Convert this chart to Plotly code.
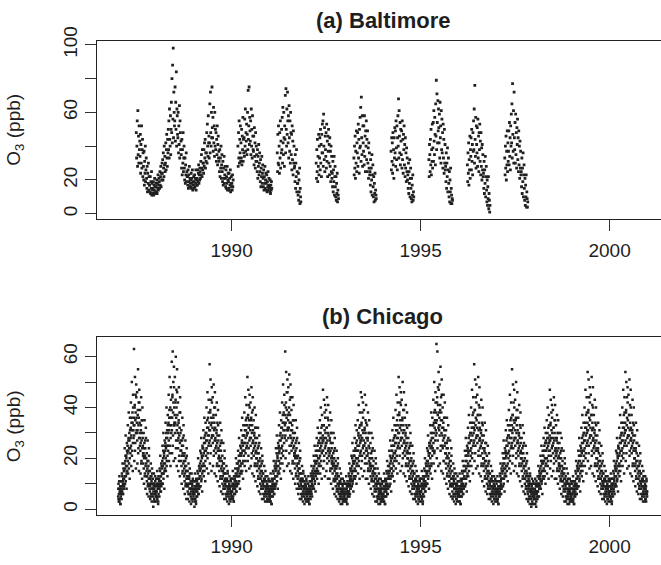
import pandas as pd
import plotly.graph_objects as go

# ---------------- data (ppb, one reading every 3 days) ----------------
bal_starts = ["1987-06-25", "1990-03-03", "1991-03-18", "1992-03-28", "1993-03-28",
              "1994-03-22", "1995-03-22", "1996-03-28", "1997-03-25"]
bal_87_90 = [48, 33,
    40, 55, 28, 61, 35, 46, 30, 52, 38, 43,
    34, 47, 24, 41, 30, 52, 27, 38, 44, 22, 36,
    28, 20, 37, 17, 31, 24, 40, 19, 26, 33,
    21, 15, 28, 13, 24, 18, 30, 14, 22, 17,
    17, 13, 22, 12, 19, 15, 25, 11, 18, 14,
    15, 12, 19, 11, 17, 14, 21, 12, 16, 13, 18,
    16, 13, 20, 12, 18, 15, 23, 14, 17, 21,
    19, 15, 25, 17, 22, 28, 16, 24, 20, 30,
    24, 32, 20, 36, 27, 22, 40, 29, 34, 25,
    30, 42, 26, 38, 47, 33, 28, 44, 36, 50,
    38, 55, 33, 62, 44, 40, 58, 35, 50, 66,
    48, 80, 42, 88, 56, 98, 45, 72, 60, 52,
    55, 75, 43, 66, 50, 84, 40, 62, 58, 47,
    45, 60, 36, 52, 41, 64, 33, 55, 48, 38, 43,
    35, 27, 44, 23, 38, 30, 48, 25, 33, 40,
    27, 20, 33, 18, 29, 23, 36, 19, 25, 22,
    22, 17, 26, 15, 23, 19, 28, 16, 21, 18,
    20, 16, 24, 15, 21, 18, 26, 14, 19, 17, 22,
    19, 15, 23, 16, 21, 18, 26, 14, 20, 17,
    21, 17, 26, 19, 24, 29, 18, 23, 20, 27,
    25, 21, 31, 23, 35, 27, 22, 38, 26, 30,
    30, 24, 38, 28, 42, 33, 44, 27, 36, 31,
    36, 48, 30, 53, 40, 34, 58, 42, 46, 33,
    42, 65, 36, 72, 48, 40, 60, 45, 75, 51,
    45, 57, 37, 63, 42, 52, 34, 60, 40, 50,
    38, 48, 31, 44, 35, 52, 29, 41, 46, 33, 37,
    31, 25, 38, 22, 33, 27, 40, 21, 29, 35,
    25, 19, 31, 17, 27, 21, 34, 18, 23, 28,
    21, 16, 26, 15, 22, 18, 28, 14, 20, 24,
    19, 15, 24, 14, 21, 17, 26, 13, 18, 22, 16,
    18, 14, 23, 16, 20]
bal_1990 = [40, 28, 48, 33, 55, 30, 44, 36, 52, 31,
    42, 33, 50, 29, 46, 38, 57, 31, 44, 36,
    45, 34, 56, 40, 62, 37, 48, 43, 53, 35,
    47, 60, 38, 73, 44, 52, 75, 41, 57, 49,
    43, 55, 35, 62, 40, 50, 33, 58, 46, 38,
    37, 46, 29, 51, 34, 42, 27, 48, 31, 40, 35,
    31, 25, 38, 21, 34, 28, 41, 23, 30, 36,
    25, 19, 32, 16, 27, 22, 34, 18, 24, 29,
    21, 16, 26, 14, 22, 18, 28, 15, 20, 24,
    18, 14, 23, 13, 19, 16, 25, 14, 17, 21, 15,
    16, 13, 20, 12, 17, 14, 19, 15]
bal_1991 = [36, 25, 47, 30, 52,
    29, 40, 24, 48, 33, 55, 27, 43, 36, 50,
    38, 57, 30, 63, 42, 35, 60, 45, 28, 52,
    44, 70, 36, 74, 50, 40, 62, 47, 72, 55,
    42, 58, 33, 64, 45, 37, 55, 30, 60, 48,
    35, 47, 26, 52, 32, 43, 23, 49, 30, 40, 27,
    28, 19, 35, 15, 30, 22, 38, 13, 25, 18,
    18, 11, 24, 8, 20, 13, 27, 6, 15, 10, 7]
bal_1992 = [30, 21, 38, 25, 44, 19, 34, 28, 47, 23, 40,
    33, 45, 26, 50, 30, 41, 22, 47, 36, 53,
    36, 55, 28, 59, 40, 32, 51, 25, 46, 38,
    34, 48, 27, 53, 31, 43, 22, 46, 37, 50,
    30, 41, 23, 45, 28, 37, 19, 40, 25, 34, 21,
    24, 16, 31, 13, 26, 19, 34, 11, 22, 28,
    16, 10, 22, 8, 18, 12, 24, 7, 14, 11, 9]
bal_1993 = [33, 23, 40, 27, 46, 21, 37, 30, 49, 25, 42,
    36, 48, 28, 53, 33, 44, 24, 50, 39, 57,
    40, 63, 31, 69, 45, 35, 58, 28, 52, 42,
    37, 52, 29, 58, 34, 46, 25, 49, 40, 55,
    32, 44, 25, 49, 30, 39, 21, 42, 27, 36, 23,
    25, 17, 32, 13, 27, 20, 35, 11, 23, 29,
    16, 10, 22, 7, 18, 12, 24, 8, 14, 11, 9]
bal_1994 = [37, 26, 45,
    31, 42, 24, 48, 29, 38, 21, 45, 33, 51,
    36, 49, 28, 55, 39, 32, 52, 26, 45, 58,
    40, 68, 33, 61, 46, 36, 54, 29, 50, 43,
    35, 49, 27, 55, 32, 44, 24, 47, 38, 52,
    29, 41, 22, 45, 27, 36, 19, 39, 25, 33, 20,
    23, 15, 30, 12, 25, 18, 32, 10, 21, 27,
    15, 9, 21, 7, 17, 11, 23, 8, 13, 10]
bal_1995 = [32, 22, 41,
    35, 25, 44, 29, 50, 23, 38, 31, 53, 27,
    39, 54, 31, 61, 43, 35, 57, 47, 29, 65,
    46, 79, 38, 71, 54, 42, 67, 49, 62, 51,
    42, 59, 33, 66, 45, 52, 30, 61, 38, 56,
    36, 48, 27, 53, 33, 44, 24, 50, 30, 41, 26,
    28, 19, 36, 15, 30, 22, 39, 13, 26, 33,
    18, 10, 25, 7, 20, 13, 27, 6, 15, 11,
    6, 9, 8]
bal_1996 = [29, 19, 36, 24, 42, 17, 32, 26, 46, 21, 38,
    34, 45, 26, 50, 31, 41, 23, 48, 37, 55,
    38, 62, 30, 76, 44, 34, 57, 27, 52, 41,
    36, 51, 28, 56, 33, 46, 25, 48, 38, 53,
    31, 43, 23, 48, 28, 39, 20, 41, 26, 35, 22,
    24, 15, 31, 12, 26, 18, 34, 10, 22, 28,
    14, 7, 20, 5, 16, 9, 22, 3, 12, 8, 1, 5]
bal_1997 = [33, 23, 40, 27, 46, 20, 37, 29, 49, 25, 42, 31,
    37, 49, 29, 54, 34, 45, 26, 52, 40, 59,
    42, 65, 33, 77, 47, 37, 61, 30, 72, 45,
    38, 54, 30, 59, 35, 48, 27, 51, 41, 56,
    32, 45, 25, 49, 29, 40, 21, 43, 27, 37, 23,
    25, 16, 33, 12, 27, 19, 36, 10, 23, 29,
    15, 8, 21, 5, 17, 10, 23, 4, 13, 9, 4, 7]

# Chicago, first set of readings (from 1 January, every 3 days)
chi_1987 = [5, 10, 3, 8, 13, 4, 7, 2, 11, 6,
    9, 4, 14, 7, 18, 11, 6, 16, 8, 12,
    15, 24, 10, 19, 29, 13, 21, 8, 26, 17,
    22, 33, 14, 27, 38, 18, 30, 12, 36, 24,
    28, 42, 17, 34, 50, 23, 38, 15, 45, 31,
    33, 63, 19, 40, 52, 26, 45, 16, 49, 36,
    30, 46, 18, 37, 55, 24, 42, 15, 47, 34,
    25, 39, 14, 31, 44, 19, 35, 12, 40, 28, 21,
    18, 30, 10, 24, 35, 14, 27, 8, 32, 20,
    13, 22, 6, 16, 27, 10, 19, 5, 24, 15,
    8, 15, 4, 12, 18, 6, 13, 3, 16, 10,
    6, 12, 1, 9, 14, 4, 10, 3, 13, 7, 5]
chi_1988 = [7, 12, 3, 10, 15, 5, 9, 2, 13, 8,
    11, 5, 16, 9, 21, 13, 7, 18, 10, 14,
    16, 25, 10, 20, 30, 14, 22, 8, 27, 18,
    23, 34, 15, 28, 40, 19, 31, 13, 37, 25,
    30, 45, 19, 36, 52, 25, 40, 17, 48, 33,
    36, 58, 22, 44, 62, 29, 50, 19, 56, 40,
    33, 52, 20, 42, 60, 27, 47, 17, 55, 37,
    27, 42, 15, 34, 48, 21, 38, 13, 44, 30, 23,
    19, 31, 10, 25, 36, 15, 28, 8, 33, 21,
    13, 22, 6, 17, 27, 10, 20, 4, 24, 15,
    9, 15, 4, 12, 18, 6, 13, 3, 16, 10,
    6, 11, 2, 8, 14, 4, 10, 3, 12, 7, 5]
chi_1989 = [6, 11, 1, 9, 14, 4, 8, 3, 12, 7,
    10, 5, 15, 8, 20, 12, 6, 17, 9, 13,
    15, 23, 9, 19, 28, 12, 21, 7, 25, 17,
    21, 31, 13, 26, 36, 17, 29, 11, 34, 23,
    27, 40, 16, 32, 46, 22, 36, 14, 43, 29,
    31, 57, 18, 38, 51, 25, 43, 15, 48, 34,
    29, 44, 17, 36, 49, 23, 40, 14, 46, 32,
    24, 37, 13, 30, 42, 18, 34, 11, 39, 27, 20,
    17, 29, 9, 23, 34, 13, 26, 7, 31, 19,
    12, 21, 6, 15, 26, 9, 18, 4, 23, 14,
    8, 14, 4, 11, 17, 6, 12, 3, 15, 9,
    6, 11, 2, 8, 13, 4, 9, 3, 12, 7, 5]
chi_1990 = [7, 12, 4, 10, 15, 5, 9, 3, 13, 8,
    11, 6, 16, 9, 20, 13, 7, 18, 10, 14,
    15, 23, 10, 19, 28, 13, 21, 8, 25, 17,
    21, 31, 14, 26, 36, 18, 29, 12, 33, 23,
    26, 38, 17, 31, 44, 22, 35, 15, 41, 29,
    30, 52, 19, 36, 47, 24, 41, 16, 45, 33,
    28, 42, 17, 35, 48, 22, 38, 14, 44, 31,
    23, 35, 13, 29, 40, 18, 32, 11, 37, 26, 20,
    17, 28, 9, 22, 32, 13, 25, 7, 29, 19,
    12, 20, 6, 15, 24, 9, 18, 4, 21, 14,
    8, 14, 4, 11, 17, 6, 12, 3, 15, 9,
    6, 11, 3, 8, 13, 4, 9, 3, 12, 7, 5]
chi_1991 = [6, 11, 3, 9, 14, 5, 8, 2, 12, 7,
    10, 5, 15, 8, 19, 12, 6, 17, 9, 13,
    15, 24, 10, 19, 29, 13, 21, 8, 26, 17,
    22, 33, 14, 27, 38, 18, 30, 12, 35, 24,
    28, 42, 18, 34, 49, 23, 38, 15, 45, 31,
    33, 62, 20, 40, 54, 27, 46, 17, 51, 37,
    31, 48, 18, 38, 53, 25, 43, 15, 49, 34,
    25, 39, 14, 31, 44, 19, 35, 12, 41, 28, 21,
    18, 30, 10, 23, 35, 14, 27, 8, 32, 20,
    12, 21, 6, 16, 26, 9, 19, 4, 23, 14,
    8, 14, 4, 11, 17, 6, 12, 3, 15, 9,
    6, 11, 2, 8, 13, 4, 9, 3, 12, 7, 5]
chi_1992 = [6, 10, 3, 8, 13, 4, 7, 2, 11, 6,
    9, 4, 14, 7, 17, 11, 5, 15, 8, 12,
    13, 21, 8, 17, 25, 11, 19, 7, 23, 15,
    18, 28, 12, 23, 32, 15, 26, 10, 30, 20,
    23, 35, 14, 28, 40, 19, 32, 12, 37, 26,
    27, 47, 16, 33, 43, 21, 38, 13, 41, 30,
    26, 39, 15, 32, 44, 20, 36, 12, 41, 29,
    21, 33, 12, 27, 38, 16, 30, 10, 35, 24, 18,
    16, 26, 8, 20, 30, 12, 23, 6, 28, 17,
    11, 19, 5, 14, 23, 8, 17, 4, 20, 13,
    7, 13, 3, 10, 16, 5, 11, 2, 14, 8,
    5, 10, 2, 7, 12, 4, 8, 3, 11, 6, 4]
chi_1993 = [6, 10, 3, 8, 13, 4, 7, 2, 11, 6,
    9, 5, 14, 7, 18, 11, 6, 16, 8, 12,
    13, 21, 9, 17, 26, 11, 19, 7, 23, 15,
    18, 28, 12, 23, 33, 15, 26, 10, 31, 20,
    23, 35, 14, 29, 41, 19, 32, 12, 38, 26,
    27, 46, 16, 33, 44, 21, 38, 13, 42, 30,
    25, 39, 15, 31, 45, 20, 35, 12, 41, 28,
    21, 33, 12, 27, 38, 16, 30, 10, 35, 24, 18,
    15, 26, 8, 20, 30, 12, 23, 6, 28, 17,
    11, 19, 5, 14, 23, 8, 16, 3, 20, 12,
    7, 13, 3, 10, 16, 5, 11, 2, 14, 8,
    5, 10, 2, 7, 12, 4, 8, 3, 11, 6, 4]
chi_1994 = [6, 11, 3, 9, 14, 5, 8, 2, 12, 7,
    10, 5, 15, 8, 19, 12, 6, 17, 9, 13,
    14, 23, 9, 18, 27, 12, 20, 7, 25, 16,
    20, 31, 13, 25, 36, 17, 28, 11, 33, 22,
    26, 39, 16, 31, 45, 21, 35, 14, 42, 28,
    30, 52, 18, 37, 48, 24, 42, 15, 46, 33,
    28, 43, 17, 35, 50, 22, 39, 14, 46, 31,
    23, 36, 13, 29, 41, 18, 33, 11, 38, 26, 20,
    17, 28, 9, 22, 33, 13, 25, 7, 30, 19,
    12, 20, 6, 15, 25, 9, 18, 4, 22, 14,
    8, 14, 4, 11, 17, 6, 12, 3, 15, 9,
    6, 11, 2, 8, 13, 4, 9, 3, 12, 7, 5]
chi_1995 = [7, 12, 3, 10, 15, 5, 9, 2, 13, 8,
    11, 5, 16, 9, 20, 13, 7, 18, 10, 14,
    15, 24, 10, 19, 29, 13, 22, 8, 26, 17,
    22, 33, 14, 27, 38, 18, 30, 12, 36, 24,
    28, 43, 18, 34, 50, 23, 39, 15, 46, 31,
    34, 65, 20, 42, 62, 27, 48, 17, 54, 38,
    31, 49, 18, 39, 56, 25, 44, 15, 51, 35,
    25, 40, 14, 32, 45, 19, 36, 12, 42, 29, 22,
    18, 31, 10, 24, 36, 14, 27, 8, 33, 20,
    13, 22, 6, 16, 27, 10, 19, 5, 24, 15,
    9, 15, 4, 12, 18, 6, 13, 3, 16, 10,
    6, 12, 2, 9, 14, 4, 10, 3, 13, 7, 5]
chi_1996 = [6, 11, 3, 9, 14, 5, 8, 2, 12, 7,
    10, 5, 15, 8, 19, 12, 6, 17, 9, 13,
    15, 23, 9, 19, 28, 12, 21, 7, 25, 17,
    21, 32, 13, 26, 37, 17, 29, 11, 34, 23,
    27, 40, 17, 32, 47, 22, 37, 14, 44, 30,
    32, 57, 19, 39, 51, 25, 44, 16, 49, 35,
    29, 45, 17, 37, 52, 23, 41, 14, 48, 32,
    24, 37, 13, 30, 43, 18, 34, 11, 40, 27, 20,
    17, 29, 9, 23, 34, 13, 26, 7, 31, 19,
    12, 21, 6, 15, 25, 9, 18, 4, 22, 14,
    8, 14, 4, 11, 17, 6, 12, 3, 15, 9,
    6, 11, 2, 8, 13, 4, 9, 3, 12, 7, 5]
chi_1997 = [6, 10, 3, 8, 13, 4, 7, 2, 11, 6,
    9, 5, 14, 8, 18, 11, 6, 16, 9, 12,
    14, 22, 9, 18, 27, 12, 20, 7, 24, 16,
    20, 31, 13, 25, 35, 17, 28, 11, 33, 22,
    26, 39, 16, 31, 45, 21, 35, 14, 42, 28,
    31, 55, 18, 37, 49, 24, 42, 15, 47, 34,
    28, 43, 17, 35, 50, 22, 39, 14, 46, 31,
    23, 36, 13, 29, 41, 18, 33, 11, 38, 26, 20,
    17, 28, 9, 22, 33, 13, 25, 7, 30, 19,
    12, 20, 6, 15, 25, 9, 18, 4, 22, 14,
    7, 13, 3, 10, 16, 5, 11, 2, 14, 8,
    5, 10, 1, 7, 12, 3, 8, 2, 11, 6, 4]
chi_1998 = [5, 10, 2, 8, 12, 4, 7, 1, 11, 6,
    9, 4, 13, 7, 17, 10, 5, 15, 8, 12,
    13, 21, 8, 17, 25, 11, 19, 6, 23, 15,
    18, 28, 12, 23, 32, 15, 26, 10, 30, 20,
    23, 35, 14, 28, 40, 19, 32, 12, 37, 26,
    27, 47, 16, 33, 43, 21, 38, 13, 41, 30,
    25, 39, 15, 32, 44, 20, 35, 12, 41, 28,
    21, 33, 12, 27, 37, 16, 30, 10, 35, 24, 18,
    15, 26, 8, 20, 30, 12, 23, 6, 28, 17,
    11, 19, 5, 14, 23, 8, 16, 3, 20, 12,
    7, 13, 3, 10, 16, 5, 11, 2, 14, 8,
    5, 10, 2, 7, 12, 4, 8, 3, 11, 6, 4]
chi_1999 = [6, 10, 3, 8, 13, 4, 7, 2, 11, 6,
    10, 5, 15, 8, 19, 12, 6, 17, 9, 13,
    15, 23, 9, 19, 28, 12, 21, 7, 25, 17,
    21, 32, 13, 26, 37, 17, 29, 11, 34, 23,
    27, 40, 17, 32, 47, 22, 37, 14, 44, 30,
    31, 54, 19, 38, 51, 25, 44, 16, 48, 35,
    29, 45, 17, 37, 52, 23, 41, 14, 48, 32,
    24, 37, 13, 30, 43, 18, 34, 11, 40, 27, 20,
    17, 29, 9, 23, 34, 13, 26, 7, 31, 19,
    12, 21, 6, 15, 25, 9, 18, 4, 22, 14,
    8, 14, 4, 11, 17, 6, 12, 3, 15, 9,
    6, 11, 2, 8, 13, 4, 9, 3, 12, 7, 5]
chi_2000 = [7, 11, 3, 9, 14, 5, 8, 2, 12, 7,
    10, 5, 15, 8, 19, 12, 6, 17, 9, 13,
    15, 23, 9, 19, 28, 12, 21, 7, 25, 17,
    21, 32, 13, 26, 37, 17, 29, 11, 34, 23,
    27, 40, 17, 32, 47, 22, 37, 14, 44, 30,
    31, 54, 19, 38, 50, 25, 44, 16, 48, 35,
    29, 45, 17, 37, 51, 23, 41, 14, 47, 32,
    24, 37, 13, 30, 43, 18, 34, 11, 40, 27, 20,
    17, 29, 9, 23, 34, 13, 26, 7, 31, 19,
    12, 21, 6, 15, 25, 9, 18, 4, 22, 14,
    8, 14, 4, 11, 17, 6, 12, 3, 15, 9,
    6, 11, 3, 8, 13, 4, 9, 3, 12, 7, 5]

# Chicago, second set of readings (from 2 January, every 3 days)
chi2_1987 = [8, 4, 6, 11, 3, 7, 9, 2, 5, 8,
    11, 7, 9, 13, 6, 10, 12, 8, 15, 9,
    18, 13, 16, 21, 11, 17, 20, 14, 23, 15,
    25, 19, 23, 28, 16, 24, 27, 20, 31, 22,
    32, 25, 29, 36, 21, 31, 34, 26, 40, 28,
    36, 29, 33, 41, 23, 35, 38, 30, 44, 31,
    34, 27, 31, 39, 22, 33, 36, 28, 42, 30,
    28, 23, 26, 33, 18, 27, 30, 24, 35, 25, 22,
    22, 16, 20, 26, 13, 21, 24, 17, 28, 18,
    15, 11, 13, 19, 9, 14, 17, 12, 21, 12,
    10, 7, 9, 13, 5, 10, 11, 8, 14, 8,
    8, 5, 7, 10, 3, 8, 9, 6, 11, 6, 7]
chi2_1988 = [9, 5, 7, 12, 4, 8, 10, 3, 6, 9,
    12, 8, 10, 15, 7, 11, 13, 9, 17, 10,
    19, 14, 17, 23, 12, 18, 21, 15, 25, 16,
    26, 20, 24, 30, 17, 25, 28, 21, 33, 23,
    34, 27, 31, 39, 22, 33, 36, 28, 43, 30,
    39, 31, 36, 45, 25, 38, 42, 33, 48, 34,
    37, 30, 34, 43, 24, 36, 40, 31, 46, 33,
    30, 24, 28, 35, 19, 29, 32, 26, 38, 27, 23,
    23, 17, 21, 27, 14, 22, 25, 18, 29, 19,
    16, 11, 14, 19, 9, 15, 17, 12, 21, 13,
    10, 7, 9, 13, 6, 10, 12, 8, 14, 8,
    8, 5, 7, 10, 4, 8, 9, 6, 11, 6, 7]
chi2_1989 = [8, 4, 6, 11, 3, 7, 9, 2, 5, 8,
    11, 7, 9, 14, 6, 10, 12, 8, 16, 9,
    18, 13, 16, 22, 11, 17, 20, 14, 24, 15,
    24, 18, 22, 28, 15, 23, 26, 19, 30, 21,
    30, 24, 27, 35, 20, 29, 32, 25, 38, 26,
    34, 27, 31, 39, 22, 33, 36, 28, 42, 29,
    32, 26, 29, 37, 21, 31, 34, 27, 40, 28,
    27, 22, 25, 31, 17, 26, 29, 23, 33, 24, 20,
    21, 15, 19, 25, 12, 20, 23, 16, 27, 17,
    15, 10, 13, 18, 8, 14, 16, 11, 20, 12,
    10, 6, 9, 12, 5, 9, 11, 7, 14, 8,
    8, 5, 7, 10, 4, 8, 9, 6, 11, 6, 7]
chi2_1990 = [9, 5, 7, 12, 4, 8, 10, 3, 6, 9,
    12, 8, 10, 14, 7, 11, 13, 9, 16, 10,
    18, 13, 16, 21, 11, 17, 19, 14, 22, 15,
    24, 18, 22, 27, 15, 23, 25, 19, 29, 21,
    29, 23, 26, 33, 19, 28, 31, 24, 36, 25,
    33, 26, 30, 37, 21, 32, 35, 27, 40, 28,
    31, 25, 28, 36, 20, 30, 33, 26, 39, 27,
    26, 21, 24, 30, 17, 25, 28, 22, 32, 23, 20,
    20, 15, 18, 24, 12, 19, 22, 16, 26, 17,
    14, 10, 12, 17, 8, 13, 15, 11, 19, 11,
    10, 6, 9, 12, 5, 9, 11, 7, 13, 8,
    8, 5, 7, 10, 4, 8, 9, 6, 11, 6, 7]
chi2_1991 = [8, 4, 6, 11, 3, 7, 9, 2, 5, 8,
    11, 7, 9, 14, 6, 10, 12, 8, 16, 9,
    18, 13, 16, 22, 11, 17, 20, 14, 24, 15,
    25, 19, 23, 29, 16, 24, 27, 20, 32, 22,
    32, 25, 29, 37, 21, 31, 34, 26, 41, 28,
    37, 29, 34, 42, 23, 36, 39, 31, 46, 32,
    35, 28, 32, 40, 22, 34, 37, 29, 44, 31,
    28, 23, 26, 33, 18, 27, 30, 24, 35, 25, 22,
    22, 16, 20, 26, 13, 21, 24, 17, 28, 18,
    15, 10, 13, 18, 8, 14, 16, 11, 20, 12,
    10, 6, 9, 12, 5, 9, 11, 7, 14, 8,
    8, 5, 7, 10, 4, 8, 9, 6, 11, 6, 7]
chi2_1992 = [8, 4, 6, 10, 3, 7, 9, 2, 5, 8,
    11, 7, 9, 13, 6, 10, 12, 8, 14, 9,
    16, 12, 14, 19, 10, 15, 18, 13, 21, 14,
    21, 16, 19, 25, 14, 20, 23, 17, 27, 18,
    26, 21, 24, 30, 17, 25, 28, 22, 33, 23,
    29, 23, 27, 33, 19, 28, 31, 24, 36, 25,
    28, 22, 26, 32, 18, 27, 30, 23, 35, 24,
    24, 19, 22, 28, 15, 23, 26, 20, 30, 21, 18,
    19, 14, 17, 22, 11, 18, 20, 15, 24, 16,
    13, 9, 12, 16, 7, 12, 14, 10, 18, 10,
    9, 6, 8, 11, 4, 8, 10, 6, 12, 7,
    7, 4, 6, 9, 3, 7, 8, 5, 10, 5, 6]
chi2_1993 = [7, 4, 6, 10, 3, 8, 9, 2, 5, 7,
    10, 7, 9, 13, 5, 10, 12, 8, 15, 9,
    16, 11, 14, 20, 10, 15, 18, 12, 21, 13,
    21, 16, 19, 24, 13, 20, 23, 17, 27, 18,
    25, 20, 23, 30, 17, 25, 28, 21, 33, 22,
    29, 23, 27, 34, 19, 28, 31, 24, 36, 25,
    27, 22, 25, 32, 18, 26, 30, 23, 34, 24,
    23, 18, 21, 28, 15, 22, 25, 19, 30, 20, 17,
    18, 13, 16, 22, 11, 17, 20, 14, 24, 15,
    13, 9, 11, 16, 7, 12, 14, 10, 18, 10,
    9, 5, 8, 11, 4, 8, 10, 6, 12, 7,
    7, 4, 6, 9, 3, 7, 8, 5, 10, 5, 6]
chi2_1994 = [8, 4, 6, 11, 3, 7, 9, 2, 5, 8,
    11, 7, 9, 14, 6, 10, 12, 8, 15, 9,
    17, 12, 15, 21, 10, 16, 19, 13, 23, 14,
    23, 18, 21, 27, 15, 22, 25, 19, 29, 20,
    29, 23, 26, 33, 19, 28, 31, 24, 37, 25,
    33, 26, 30, 38, 21, 32, 35, 27, 41, 28,
    31, 25, 28, 36, 20, 30, 33, 26, 39, 27,
    26, 21, 24, 30, 17, 25, 28, 22, 32, 23, 20,
    20, 15, 18, 24, 12, 19, 22, 16, 26, 17,
    14, 10, 12, 17, 8, 13, 15, 11, 19, 11,
    10, 6, 9, 12, 5, 9, 11, 7, 13, 8,
    8, 5, 7, 10, 4, 8, 9, 6, 11, 6, 7]
chi2_1995 = [9, 5, 7, 12, 4, 8, 10, 3, 6, 9,
    12, 8, 10, 15, 7, 11, 13, 9, 17, 10,
    19, 14, 17, 23, 12, 18, 21, 15, 25, 16,
    26, 20, 24, 30, 17, 25, 28, 21, 33, 23,
    33, 26, 30, 38, 22, 32, 35, 27, 42, 29,
    38, 30, 35, 44, 24, 37, 41, 32, 47, 33,
    36, 29, 33, 41, 23, 35, 38, 30, 45, 32,
    29, 24, 27, 34, 19, 28, 31, 25, 36, 26, 22,
    22, 16, 20, 26, 13, 21, 24, 17, 28, 18,
    15, 11, 13, 19, 9, 14, 17, 12, 21, 12,
    10, 7, 9, 13, 5, 10, 11, 8, 14, 8,
    8, 5, 7, 10, 4, 8, 9, 6, 11, 6, 7]
chi2_1996 = [8, 5, 6, 11, 3, 7, 9, 2, 5, 8,
    11, 7, 9, 14, 6, 10, 12, 8, 15, 9,
    17, 12, 15, 21, 10, 16, 19, 13, 23, 14,
    24, 18, 22, 28, 15, 23, 26, 19, 30, 21,
    30, 24, 27, 34, 20, 29, 32, 25, 38, 26,
    34, 27, 31, 39, 22, 33, 36, 28, 42, 29,
    32, 26, 29, 37, 21, 31, 34, 27, 40, 28,
    27, 21, 25, 31, 17, 26, 29, 22, 33, 24, 20,
    20, 15, 18, 24, 12, 19, 22, 16, 26, 17,
    14, 10, 12, 17, 8, 13, 15, 11, 19, 11,
    10, 6, 9, 12, 5, 9, 11, 7, 13, 8,
    8, 5, 7, 10, 4, 8, 9, 6, 11, 6, 7]
chi2_1997 = [8, 4, 6, 11, 3, 7, 9, 2, 5, 8,
    11, 7, 9, 13, 6, 10, 12, 8, 15, 9,
    17, 12, 15, 20, 10, 16, 18, 13, 22, 14,
    23, 17, 21, 27, 15, 22, 25, 18, 29, 20,
    29, 23, 26, 33, 19, 28, 31, 24, 36, 25,
    33, 26, 30, 37, 21, 32, 35, 27, 40, 28,
    31, 25, 28, 36, 20, 30, 33, 26, 39, 27,
    26, 21, 24, 30, 17, 25, 28, 22, 32, 23, 20,
    20, 15, 18, 24, 12, 19, 22, 16, 26, 17,
    14, 10, 12, 17, 8, 13, 15, 11, 19, 11,
    9, 6, 8, 12, 4, 9, 10, 7, 13, 7,
    7, 4, 6, 9, 2, 7, 8, 5, 10, 5, 6]
chi2_1998 = [7, 4, 6, 10, 2, 7, 9, 3, 5, 7,
    10, 7, 9, 13, 5, 10, 12, 8, 14, 9,
    16, 11, 14, 19, 10, 15, 18, 12, 21, 13,
    21, 16, 19, 25, 13, 20, 23, 17, 27, 18,
    26, 20, 24, 30, 17, 25, 28, 21, 33, 23,
    29, 23, 27, 34, 19, 28, 31, 24, 36, 25,
    28, 22, 26, 32, 18, 27, 30, 23, 35, 24,
    24, 19, 22, 28, 15, 23, 26, 20, 30, 21, 17,
    18, 13, 16, 22, 11, 17, 20, 14, 24, 15,
    13, 9, 11, 16, 7, 12, 14, 10, 18, 10,
    9, 5, 8, 11, 4, 8, 10, 6, 12, 7,
    7, 4, 6, 9, 3, 7, 8, 5, 10, 5, 6]
chi2_1999 = [8, 4, 6, 11, 3, 7, 9, 2, 5, 8,
    11, 7, 9, 14, 6, 10, 12, 8, 16, 9,
    18, 13, 16, 21, 11, 17, 19, 14, 23, 15,
    24, 18, 22, 28, 15, 23, 26, 19, 30, 21,
    30, 24, 27, 34, 20, 29, 32, 25, 38, 26,
    34, 27, 31, 39, 22, 33, 36, 28, 42, 29,
    32, 26, 29, 37, 21, 31, 34, 27, 40, 28,
    27, 22, 25, 31, 17, 26, 29, 23, 33, 24, 20,
    20, 15, 18, 24, 12, 19, 22, 16, 26, 17,
    14, 10, 12, 17, 8, 13, 15, 11, 19, 11,
    10, 6, 9, 12, 5, 9, 11, 7, 13, 8,
    8, 5, 7, 10, 4, 8, 9, 6, 11, 6, 7]
chi2_2000 = [9, 5, 7, 12, 4, 8, 10, 3, 6, 9,
    12, 8, 10, 14, 7, 11, 13, 9, 16, 10,
    18, 13, 16, 22, 11, 17, 20, 14, 24, 15,
    24, 18, 22, 28, 15, 23, 26, 19, 30, 21,
    30, 24, 27, 34, 20, 29, 32, 25, 38, 26,
    34, 27, 31, 39, 22, 33, 36, 28, 42, 29,
    32, 26, 29, 37, 21, 31, 34, 27, 40, 28,
    27, 22, 25, 31, 17, 26, 29, 23, 33, 24, 20,
    20, 15, 18, 24, 12, 19, 22, 16, 26, 17,
    14, 10, 12, 17, 8, 13, 15, 11, 19, 11,
    10, 6, 9, 12, 5, 9, 11, 7, 13, 8,
    8, 5, 7, 10, 4, 8, 9, 6, 11, 6, 7]

chi_years = list(range(1987, 2001))
x_ticks = [1990, 1995, 2000]
titles = ["(a) Baltimore", "(b) Chicago"]
y_label = "O<sub>3</sub> (ppb)"

# ---------------- helpers ----------------
def dec_years(start, n, step=3):
    out = []
    t0 = pd.Timestamp(start)
    for i in range(n):
        d = t0 + pd.Timedelta(days=step * i)
        ylen = 366 if d.is_leap_year else 365
        out.append(d.year + (d.dayofyear - 1) / ylen)
    return out

bal_series = [bal_87_90, bal_1990, bal_1991, bal_1992, bal_1993,
              bal_1994, bal_1995, bal_1996, bal_1997]
chi_series = [chi_1987, chi_1988, chi_1989, chi_1990, chi_1991, chi_1992, chi_1993,
              chi_1994, chi_1995, chi_1996, chi_1997, chi_1998, chi_1999, chi_2000]
chi2_series = [chi2_1987, chi2_1988, chi2_1989, chi2_1990, chi2_1991, chi2_1992, chi2_1993,
               chi2_1994, chi2_1995, chi2_1996, chi2_1997, chi2_1998, chi2_1999, chi2_2000]

bx, by = [], []
for s, v in zip(bal_starts, bal_series):
    bx += dec_years(s, len(v))
    by += v
cx, cy = [], []
for yr, v in zip(chi_years, chi_series):
    cx += dec_years(f"{yr}-01-01", len(v))
    cy += v
for yr, v in zip(chi_years, chi2_series):
    cx += dec_years(f"{yr}-01-02", len(v))
    cy += v

# ---------------- figure ----------------
W, H = 661, 565
FONT = "Liberation Sans, Arial, Helvetica, sans-serif"
INK = "#1e1e1e"
mk_b = dict(symbol="square", size=2.8, color="#202020", line=dict(width=0))
mk_c = dict(symbol="square", size=2.5, color="#202020", line=dict(width=0))

fig = go.Figure()
fig.add_trace(go.Scatter(x=bx, y=by, mode="markers", marker=mk_b, xaxis="x", yaxis="y",
                         showlegend=False, hoverinfo="skip"))
fig.add_trace(go.Scatter(x=cx, y=cy, mode="markers", marker=mk_c, xaxis="x2", yaxis="y2",
                         showlegend=False, hoverinfo="skip"))

left_px = 97
xr = [1986.44, 2001.36]
top_dom = [1 - 218.7 / H, 1 - 40.7 / H]
bot_dom = [1 - 515.3 / H, 1 - 337.3 / H]

tickfont = dict(size=19, color=INK, family=FONT)
xcommon = dict(range=xr, tickvals=x_ticks, ticktext=[str(t) for t in x_ticks],
               ticks="outside", ticklen=11, tickwidth=1, tickcolor="#333",
               showline=True, linecolor="#222", linewidth=1.3, mirror=True,
               showgrid=False, zeroline=False, automargin=False, tickfont=tickfont,
               ticklabelstandoff=3)
ycommon = dict(ticks="outside", ticklen=11, tickwidth=1, tickcolor="#333",
               showline=True, linecolor="#222", linewidth=1.3, mirror=False,
               showgrid=False, zeroline=False, tickangle=-90, automargin=False,
               tickfont=tickfont)

fig.update_layout(
    template="none",
    width=W, height=H, margin=dict(l=left_px, r=0, t=0, b=0, pad=0),
    paper_bgcolor="white", plot_bgcolor="white",
    font=dict(family=FONT, color=INK),
    xaxis=dict(domain=[0, 1], anchor="y", **xcommon),
    xaxis2=dict(domain=[0, 1], anchor="y2", **xcommon),
    yaxis=dict(domain=top_dom, anchor="x", range=[-2.9, 102.4],
               tickvals=[0, 20, 60, 100],
               minor=dict(tickvals=[40, 80], ticks="outside", ticklen=11,
                          tickwidth=1, tickcolor="#333", showgrid=False),
               **ycommon),
    yaxis2=dict(domain=bot_dom, anchor="x2", range=[-2.4, 67.6],
                tickvals=[0, 20, 40, 60],
                minor=dict(tickvals=[10, 30, 50], ticks="outside", ticklen=11,
                           tickwidth=1, tickcolor="#333", showgrid=False),
                **ycommon),
)

plot_w = W - left_px
title_x = (382.5 - left_px) / plot_w
ylab_x = (15 - left_px) / plot_w
for txt, ty, dom in [(titles[0], 20, top_dom), (titles[1], 316, bot_dom)]:
    fig.add_annotation(text=f"<b>{txt}</b>", xref="paper", yref="paper",
                       x=title_x, y=1 - ty / H, showarrow=False,
                       xanchor="center", yanchor="middle",
                       font=dict(size=22, color=INK, family=FONT))
    fig.add_annotation(text=y_label, xref="paper", yref="paper",
                       x=ylab_x, y=(dom[0] + dom[1]) / 2, showarrow=False, textangle=-90,
                       xanchor="center", yanchor="middle",
                       font=dict(size=19, color=INK, family=FONT))

fig.write_html("out.html")
